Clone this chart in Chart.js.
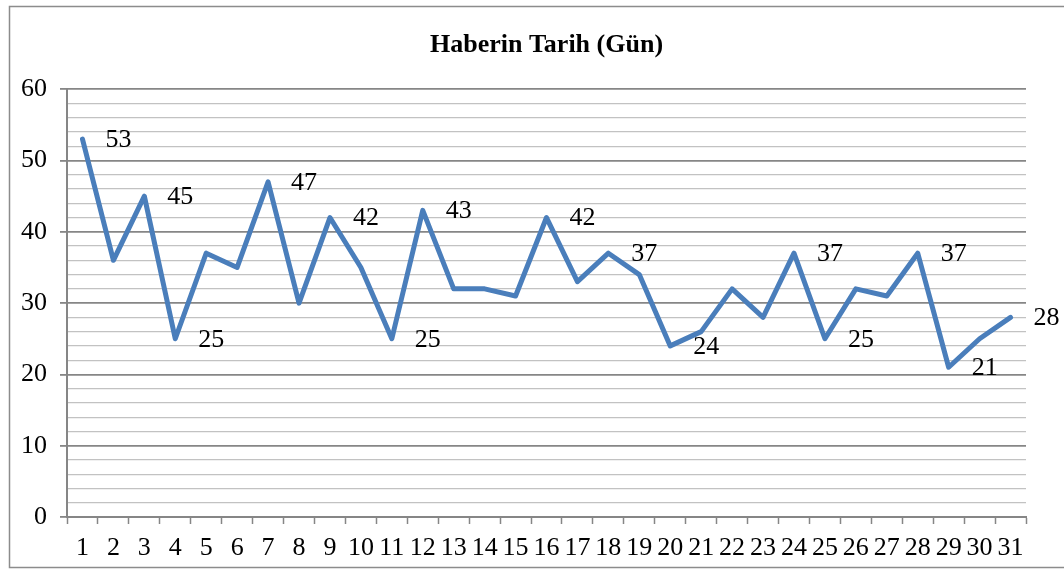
<!DOCTYPE html>
<html>
<head>
<meta charset="utf-8">
<script src="https://cdn.jsdelivr.net/npm/chart.js@4"></script>
<style>
  html, body { margin: 0; padding: 0; background: #fff; }
</style>
</head>
<body>
<canvas id="haberChart" width="1064" height="570"></canvas>
<script>
const days = ['1','2','3','4','5','6','7','8','9','10','11','12','13','14','15','16',
              '17','18','19','20','21','22','23','24','25','26','27','28','29','30','31'];
const counts = [53, 36, 45, 25, 37, 35, 47, 30, 42, 35, 25, 43, 32, 32, 31, 42,
                33, 37, 34, 24, 26, 32, 28, 37, 25, 32, 31, 37, 21, 25, 28];
// days that carry a value label in the original
const labelledDays = ['1','3','4','7','9','11','12','16','18','20','24','25','28','29','31'];
const yTicks = [0, 10, 20, 30, 40, 50, 60];

const serif = "'Liberation Serif', 'Times New Roman', serif";

// frame around the whole chart
const framePlugin = {
    id: 'frame',
    beforeDraw(chart) {
        const c = chart.ctx;
        c.save();
        c.strokeStyle = '#8c8c8c';
        c.lineWidth = 1.5;
        c.strokeRect(9.5, 6.5, 1080, 561);
        c.restore();
    }
};

// value labels to the right of selected points
const valueLabels = {
    id: 'valueLabels',
    afterDatasetsDraw(chart) {
        const c = chart.ctx;
        const meta = chart.getDatasetMeta(0);
        c.save();
        c.font = '26px ' + serif;
        c.fillStyle = '#000';
        c.textAlign = 'center';
        c.textBaseline = 'middle';
        meta.data.forEach((pt, i) => {
            if (labelledDays.includes(days[i])) {
                c.fillText(String(counts[i]), pt.x + 36, pt.y + 1);
            }
        });
        c.restore();
    }
};

const ctx = document.getElementById('haberChart').getContext('2d');
let haberChart = new Chart(ctx, {
    type: 'line',
    data: {
        labels: days,
        datasets: [{
            label: 'Haberin Tarih (Gün)',
            data: counts,
            borderColor: '#4a7ebb',
            borderWidth: 5,
            borderJoinStyle: 'round',
            borderCapStyle: 'round',
            pointRadius: 0,
            tension: 0,
            fill: false
        }]
    },
    options: {
        responsive: false,
        animation: false,
        layout: {
            padding: { left: 9, right: 38, top: 0, bottom: 0 }
        },
        plugins: {
            legend: { display: false },
            tooltip: { enabled: false },
            title: {
                display: true,
                fullSize: false,
                text: 'Haberin Tarih (Gün)',
                color: '#000',
                font: { family: serif, size: 26, weight: 'bold', lineHeight: 1.2 },
                padding: { top: 30, bottom: 28 }
            }
        },
        scales: {
            x: {
                offset: true,
                grid: {
                    offset: true,
                    drawOnChartArea: false,
                    drawTicks: true,
                    tickLength: 7,
                    tickColor: '#868686',
                    tickWidth: 1.5
                },
                border: { color: '#868686', width: 2 },
                ticks: {
                    autoSkip: false,
                    maxRotation: 0,
                    color: '#000',
                    padding: 9,
                    font: { family: serif, size: 26 }
                },
                afterFit(scale) { scale.height = 53; }
            },
            y: {
                min: 0,
                max: 60,
                ticks: {
                    stepSize: 2,
                    autoSkip: false,
                    maxTicksLimit: 100,
                    color: '#000',
                    padding: 13,
                    font: { family: serif, size: 26 },
                    callback: function(v) { return yTicks.includes(v) ? String(v) : ''; }
                },
                grid: {
                    color: (c) => yTicks.includes(c.tick.value) ? '#868686' : '#c2c2c2',
                    lineWidth: (c) => yTicks.includes(c.tick.value) ? 1.8 : 1.2,
                    tickColor: (c) => yTicks.includes(c.tick.value) ? '#868686' : 'rgba(0,0,0,0)',
                    tickLength: 7
                },
                border: { color: '#868686', width: 2 },
                afterFit(scale) { scale.width = 58; }
            }
        }
    },
    plugins: [framePlugin, valueLabels]
});
</script>
</body>
</html>
